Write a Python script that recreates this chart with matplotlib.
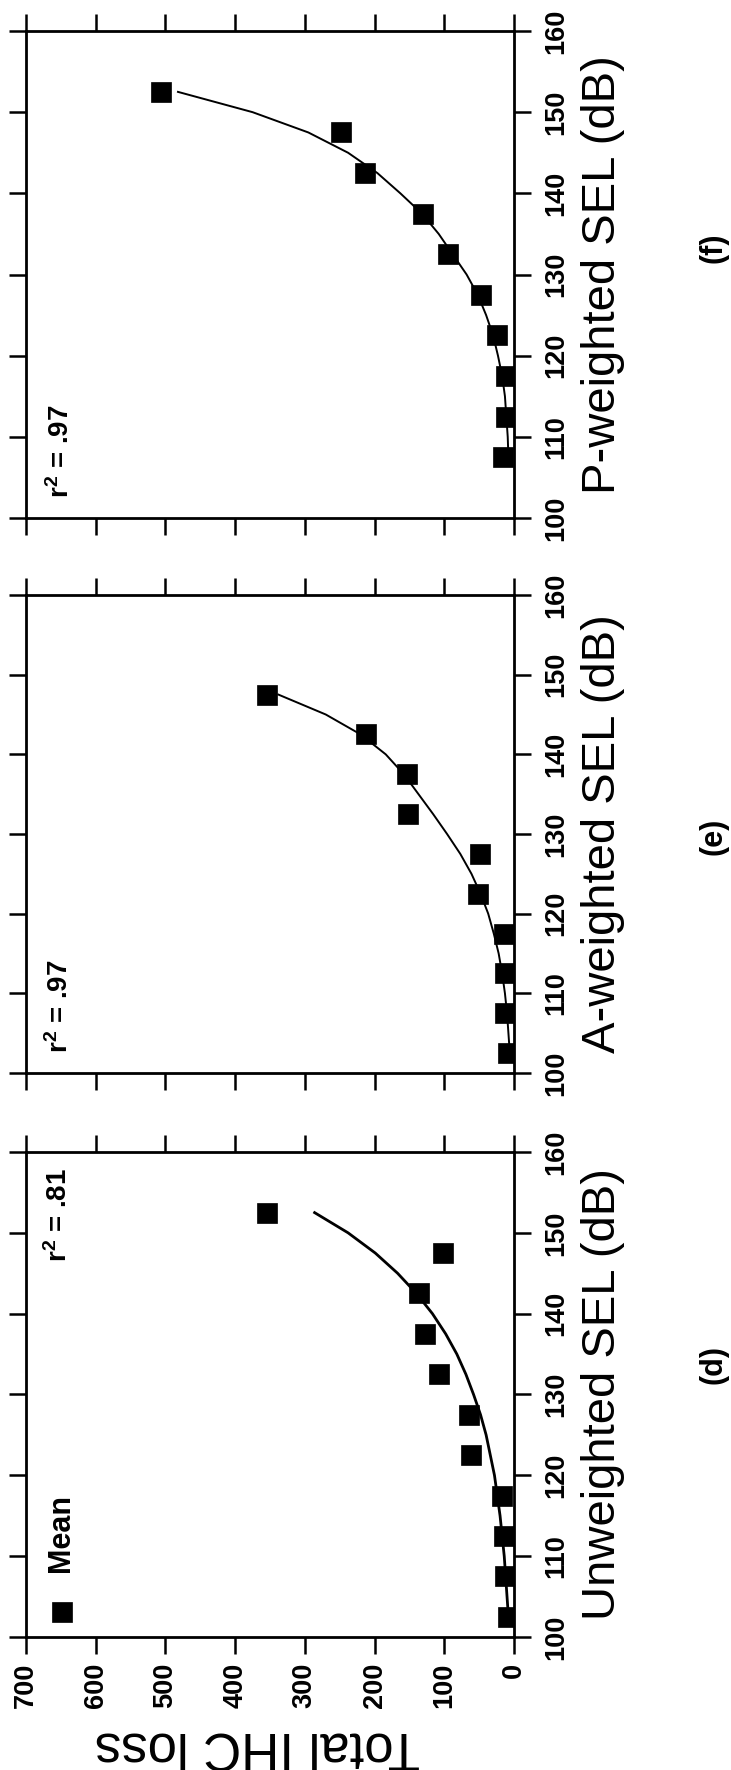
#!/usr/bin/env python3
import numpy as np
import matplotlib
matplotlib.use("Agg")
import matplotlib.pyplot as plt

plt.rcParams["font.family"] = ["Liberation Sans", "DejaVu Sans"]
plt.rcParams["mathtext.fontset"] = "custom"
plt.rcParams["mathtext.rm"] = "Liberation Sans:bold"
plt.rcParams["mathtext.it"] = "Liberation Sans:italic"

# --- data (SEL in dB, total IHC loss) ---
sel_d = [102.5, 107.5, 112.5, 117.5, 122.5, 127.5, 132.5, 137.5, 142.5, 147.5, 152.5]
ihc_d = [9, 13, 15, 17, 62, 64, 107, 128, 136, 102, 355]
sel_e = [102.5, 107.5, 112.5, 117.5, 122.5, 127.5, 132.5, 137.5, 142.5, 147.5]
ihc_e = [8, 13, 13, 15, 52, 49, 152, 154, 212, 354]
sel_f = [107.5, 112.5, 117.5, 122.5, 127.5, 132.5, 137.5, 142.5, 147.5, 152.5]
ihc_f = [16, 12, 11, 25, 47, 94, 131, 214, 248, 507]

# fitted curves
fit_sel_d = [102.5, 105, 107.5, 110, 112.5, 115, 117.5, 120, 122.5, 125, 127.5,
             130, 132.5, 135, 137.5, 140, 142.5, 145, 147.5, 150, 152.5]
fit_d = [8, 10, 12, 14, 17, 20, 24, 28, 34, 40, 48,
         58, 69, 82, 98, 117, 140, 167, 199, 238, 286]
fit_sel_e = [102.5, 105, 107.5, 110, 112.5, 115, 117.5, 120, 122.5, 125,
             127.5, 130, 132.5, 135, 137.5, 140, 142.5, 145, 147.5]
fit_e = [6, 8, 10, 13, 17, 22, 29, 37, 48, 61,
         77, 96, 116, 137, 158, 184, 220, 270, 338]
fit_sel_f = [107.5, 110, 112.5, 115, 117.5, 120, 122.5, 125, 127.5, 130,
             132.5, 135, 137.5, 140, 142.5, 145, 147.5, 150, 152.5]
fit_f = [8, 9, 11, 13, 17, 23, 30, 40, 52, 68,
         88, 108, 132, 163, 196, 238, 295, 375, 482]

sel_ticks = [100, 110, 120, 130, 140, 150, 160]
ihc_ticks = [0, 100, 200, 300, 400, 500, 600, 700]

W, H = 731, 1770
fig = plt.figure(figsize=(W / 100, H / 100), dpi=100)

# panel boxes in pixels: (top, bottom) of SEL axis, left/right of IHC axis
x_left, x_right = 26, 514
panels = [
    # top, bottom, sel, ihc, fit_sel, fit, label, tag, r2 text, r2 pos, lw, tag y
    (31, 518, sel_f, ihc_f, fit_sel_f, fit_f, "P-weighted SEL (dB)", "(f)",
     r"$\mathrm{r}^{2}$ = .97", (650, 108.2), 1.4, 248),
    (595, 1073, sel_e, ihc_e, fit_sel_e, fit_e, "A-weighted SEL (dB)", "(e)",
     r"$\mathrm{r}^{2}$ = .97", (651, 108.4), 1.4, 836),
    (1152, 1637, sel_d, ihc_d, fit_sel_d, fit_d, "Unweighted SEL (dB)", "(d)",
     r"$\mathrm{r}^{2}$ = .81", (653, 152.2), 2.0, 1365),
]

for i, (top, bot, sel, ihc, fsel, fit, lab, tag, r2, r2pos, lw, tag_y) in enumerate(panels):
    ax = fig.add_axes([x_left / W, 1 - bot / H, (x_right - x_left) / W, (bot - top) / H])
    ax.plot(fit, fsel, color="black", lw=lw, zorder=2)
    ax.plot(ihc, sel, "s", color="black", ms=15, mew=0.5, zorder=3)
    ax.set_xlim(700, 0)
    ax.set_ylim(100, 160)
    ax.set_xticks(ihc_ticks)
    ax.set_yticks(sel_ticks)
    for s in ax.spines.values():
        s.set_linewidth(2.0)
    ax.tick_params(direction="out", length=12.5, width=1.8,
                   top=True, bottom=True, left=True, right=True,
                   labelleft=False, labelright=True, labeltop=False,
                   labelbottom=(i == 2), labelsize=19.5)
    ax.tick_params(axis="y", pad=8.5, labelrotation=90)
    ax.tick_params(axis="x", pad=6, labelrotation=90)
    for t in ax.get_yticklabels() + ax.get_xticklabels():
        t.set_fontweight("bold")
    for t in ax.get_yticklabels():
        t.set_va("center")

    ax.text(r2pos[0], r2pos[1], r2, rotation=90, ha="center", va="center",
            fontsize=20, fontweight="bold")

    fig.text(581 / W, 1 - (top + bot) / 2 / H, lab, rotation=90,
             ha="left", va="center", fontsize=34)
    fig.text(698 / W, 1 - tag_y / H, tag, rotation=90, ha="left",
             va="center", fontsize=22, fontweight="bold")

    if i == 2:
        ax.plot([648], [103.1], "s", color="black", ms=15, mew=0.5,
                clip_on=False)
        ax.text(650, 112.9, "Mean", rotation=90, ha="center", va="center",
                fontsize=22, fontweight="bold")

fig.text(257 / W, 1 - 1747 / H, "Total IHC loss", rotation=180,
         ha="center", va="center", fontsize=38)

fig.savefig("out.png", dpi=100)
